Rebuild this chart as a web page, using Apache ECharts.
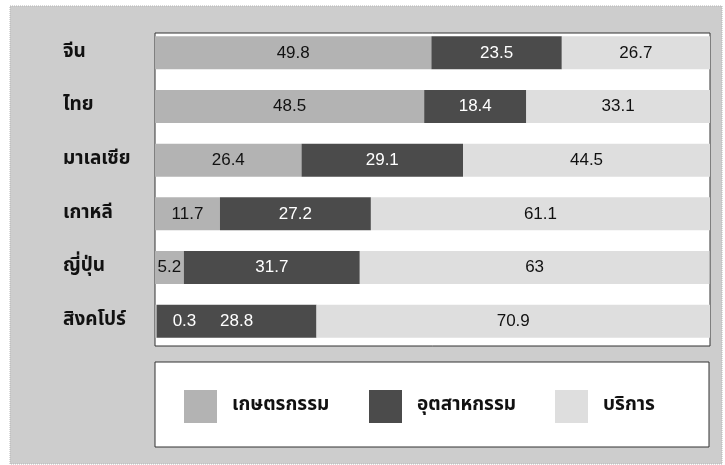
<!DOCTYPE html>
<html>
<head>
<meta charset="utf-8">
<script src="https://cdn.jsdelivr.net/npm/echarts@6/dist/echarts.min.js"></script>
<style>html,body{margin:0;padding:0;background:#fff;}#c{width:725px;height:465px;}</style>
</head>
<body>
<div id="c"></div>
<script>
var categories = ['จีน', 'ไทย', 'มาเลเซีย', 'เกาหลี', 'ญี่ปุ่น', 'สิงคโปร์'];
var seriesNames = ['เกษตรกรรม', 'อุตสาหกรรม', 'บริการ'];
var agriculture = [49.8, 48.5, 26.4, 11.7, 5.2, 0.3];
var industry = [23.5, 18.4, 29.1, 27.2, 31.7, 28.8];
var services = [26.7, 33.1, 44.5, 61.1, 63, 70.9];

var chart = echarts.init(document.getElementById('c'));
var numFont = '"Liberation Sans", Arial, sans-serif';
var thaiFont = '"Noto Sans Thai", "Noto Sans", "DejaVu Sans", sans-serif';

function lbl(color) {
  return { show: true, position: 'inside', color: color, fontSize: 17, fontFamily: numFont };
}
var agriData = agriculture.map(function (v) {
  if (v < 1) {
    return { value: v, label: { position: 'right', distance: 16, color: '#fff' } };
  }
  return v;
});

var legendLefts = [184, 369, 555];
var legends = seriesNames.map(function (n, i) {
  return {
    data: [n], left: legendLefts[i], top: 390, padding: 0,
    itemWidth: 33, itemHeight: 33, icon: 'rect',
    textStyle: { fontSize: 19, fontWeight: 'bold', color: '#111', fontFamily: thaiFont, padding: [0, 0, 0, 10] }
  };
});

chart.setOption({
  animation: false,
  backgroundColor: '#ffffff',
  graphic: [
    { type: 'rect', z: -10, silent: true, shape: { x: 10, y: 6, width: 712, height: 458 },
      style: { fill: '#cdcdcd', stroke: '#b5b5b5', lineWidth: 1, lineDash: [1, 1] } },
    { type: 'rect', z: -5, silent: true, shape: { x: 155, y: 33, width: 555, height: 313 },
      style: { fill: '#ffffff', stroke: '#333333', lineWidth: 1 } },
    { type: 'rect', z: -5, silent: true, shape: { x: 155, y: 362, width: 554, height: 85 },
      style: { fill: '#ffffff', stroke: '#333333', lineWidth: 1 } }
  ],
  legend: legends,
  grid: { left: 155, right: 15, top: 26, bottom: 117 },
  xAxis: { type: 'value', min: 0, max: 100, show: false },
  yAxis: {
    type: 'category', data: categories, inverse: true,
    axisLine: { show: false }, axisTick: { show: false },
    axisLabel: { align: 'left', margin: 92, fontSize: 19, fontWeight: 'bold', color: '#111', fontFamily: thaiFont }
  },
  series: [
    { name: seriesNames[0], type: 'bar', stack: 't', barWidth: 33, data: agriData,
      itemStyle: { color: '#b3b3b3' }, label: lbl('#111') },
    { name: seriesNames[1], type: 'bar', stack: 't', barWidth: 33, data: industry,
      itemStyle: { color: '#4b4b4b' }, label: lbl('#ffffff') },
    { name: seriesNames[2], type: 'bar', stack: 't', barWidth: 33, data: services,
      itemStyle: { color: '#dedede' }, label: lbl('#111') }
  ]
});
</script>
</body>
</html>
